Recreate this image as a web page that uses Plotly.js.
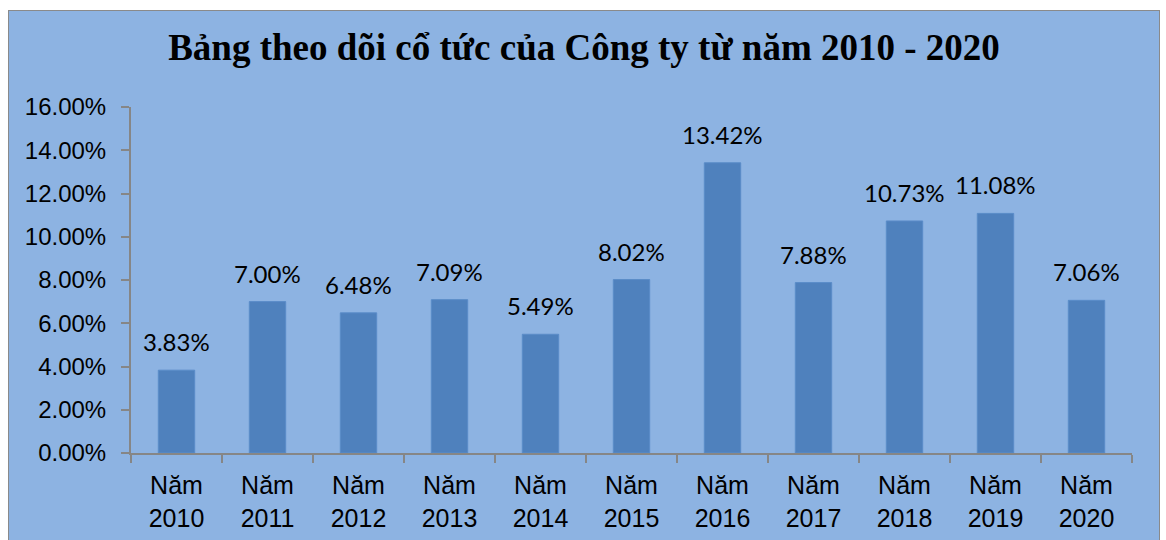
<!DOCTYPE html>
<html><head><meta charset="utf-8">
<script src="https://cdn.plot.ly/plotly-3.0.1.min.js"></script>
<style>
html,body{margin:0;padding:0;background:#fff;overflow:hidden;}
#chart{position:absolute;left:8px;top:10px;width:1150px;height:535px;border:1px solid #8a8a8a;}
</style></head>
<body><div id="chart"></div>
<script>
const years = ['2010','2011','2012','2013','2014','2015','2016','2017','2018','2019','2020'];
const categories = years.map(y => 'Năm<br>' + y);
const dividend = [0.0383,0.0700,0.0648,0.0709,0.0549,0.0802,0.1342,0.0788,0.1073,0.1108,0.0706];
const yTicks = [0,0.02,0.04,0.06,0.08,0.10,0.12,0.14,0.16];

const trace = {
  type:'bar', x:categories, y:dividend,
  marker:{color:'#4F81BD', line:{color:'#5a8cc8', width:1}},
  hoverinfo:'none'
};
const annotations = categories.map((c,i)=>({
  x:c, y:dividend[i], xref:'x', yref:'y', yanchor:'bottom', yshift:12,
  text:(dividend[i]*100).toFixed(2)+'%', showarrow:false,
  font:{family:'Lato, "Open Sans", sans-serif', size:24, color:'#000'}
}));
const layout = {
  width:1150, height:535,
  paper_bgcolor:'#8DB3E2', plot_bgcolor:'#8DB3E2',
  margin:{l:122,r:27,t:96,b:93},
  title:{text:'Bảng theo dõi cổ tức của Công ty từ năm 2010 - 2020', x:0.5, xanchor:'center', y:0.932, yanchor:'middle',
    font:{family:'"Liberation Serif", "Times New Roman", serif', size:37, color:'#000', weight:'bold'}},
  bargap:0.6,
  showlegend:false,
  xaxis:{showline:true, linecolor:'#868686', linewidth:2, ticks:'outside', tickson:'boundaries', ticklen:8, tickcolor:'#868686', tickwidth:2,
    ticklabelstandoff:9,
    tickfont:{family:'"Liberation Sans", Arial, sans-serif', size:25, color:'#000'}, fixedrange:true},
  yaxis:{range:[0,0.16], tickvals:yTicks, tickformat:'.2%', showgrid:false, zeroline:false, showline:true, linecolor:'#868686', linewidth:2,
    ticks:'outside', ticklen:8, tickcolor:'#868686', tickwidth:2, ticklabelstandoff:10,
    tickfont:{family:'"Liberation Sans", Arial, sans-serif', size:24, color:'#000'}, fixedrange:true},
  annotations:annotations
};
Plotly.newPlot('chart',[trace],layout,{displayModeBar:false, staticPlot:true});
</script></body></html>
